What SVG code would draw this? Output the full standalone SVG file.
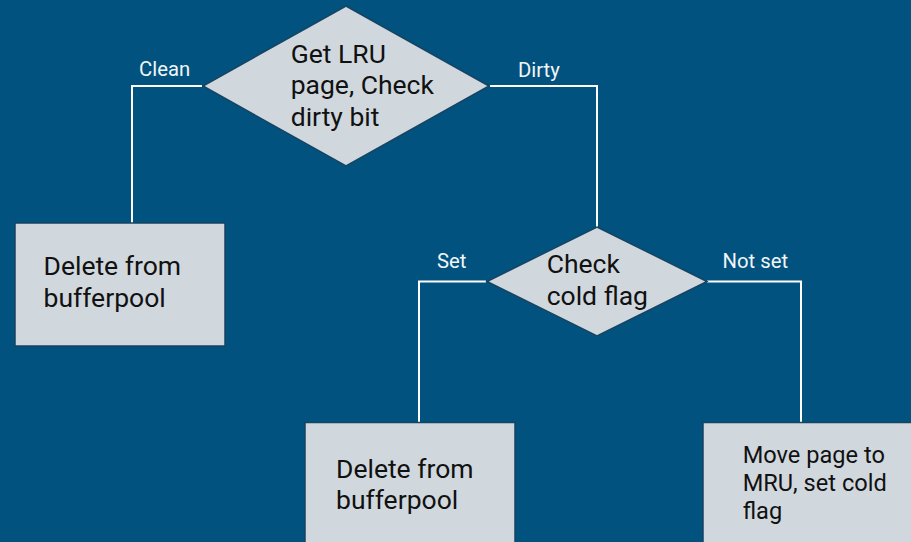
<svg xmlns="http://www.w3.org/2000/svg" width="911" height="542" viewBox="0 0 911 542">
<style>
.bg{fill:#01527e}
.shape{fill:#d0d8de;stroke:#164462;stroke-width:1.5}
.conn{fill:none;stroke:#ffffff;stroke-width:2}
.t{font-family:Roboto,"Liberation Sans",sans-serif;fill:#111111}
.big{font-size:26.5px}
.mid{font-size:23.6px}
.lbl{font-family:Roboto,"Liberation Sans",sans-serif;font-size:20.3px;fill:#f2f5f8}
</style>
<rect class="bg" x="0" y="0" width="911" height="542"/>
<g id="connectors">
<polyline class="conn" points="202,86 132,86 132,223"/>
<polyline class="conn" points="490,86 597,86 597,228"/>
<polyline class="conn" points="486,281.5 419,281.5 419,423"/>
<polyline class="conn" points="707,281.5 801,281.5 801,423"/>
<text class="lbl" x="139" y="76">Clean</text>
<text class="lbl" x="518" y="76.5">Dirty</text>
<text class="lbl" x="437" y="268">Set</text>
<text class="lbl" x="722.5" y="267.5">Not set</text>
</g>
<g id="getLRU">
<polygon class="shape" points="346,6 489,86 346,166 203,86"/>
<text class="t big" x="290.7" y="62.7">Get LRU</text>
<text class="t big" x="290.7" y="94.3">page, Check</text>
<text class="t big" x="290.7" y="125.5">dirty bit</text>
</g>
<g id="delete1">
<rect class="shape" x="15" y="223" width="210" height="123"/>
<text class="t big" x="43.5" y="275">Delete from</text>
<text class="t big" x="43.5" y="307">bufferpool</text>
</g>
<g id="checkCold">
<polygon class="shape" points="597,227 707,281.5 597,336 487,281.5"/>
<text class="t big" x="546.7" y="273.3">Check</text>
<text class="t big" x="546.7" y="305">cold flag</text>
</g>
<g id="delete2">
<rect class="shape" x="305" y="422.5" width="210" height="130"/>
<text class="t big" x="336" y="478.3">Delete from</text>
<text class="t big" x="336" y="509.3">bufferpool</text>
</g>
<g id="moveMRU">
<rect class="shape" x="703" y="422.5" width="220" height="130"/>
<text class="t mid" x="742.7" y="463.3">Move page to</text>
<text class="t mid" x="742.7" y="491.3">MRU, set cold</text>
<text class="t mid" x="742.7" y="518.5">flag</text>
</g>
</svg>
